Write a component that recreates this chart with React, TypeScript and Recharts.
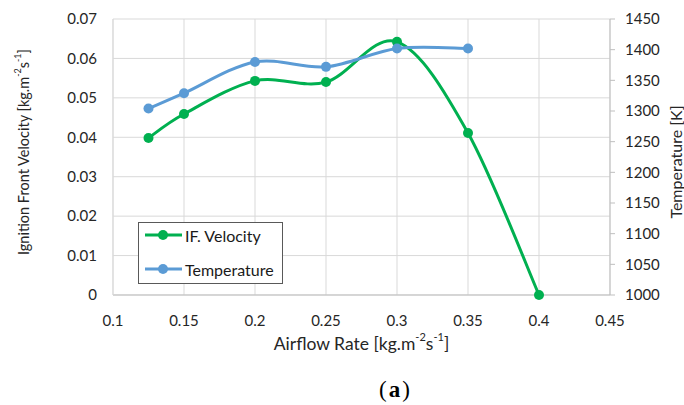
import React from 'react';
import { LineChart, Line, XAxis, YAxis, CartesianGrid, Legend, Label } from 'recharts';

// values
const airflow = [0.125, 0.15, 0.2, 0.25, 0.3, 0.35, 0.4];
const ifVelocity = [0.0398, 0.0459, 0.0543, 0.054, 0.0642, 0.0411, 0];
const temperature: (number | null)[] = [1304, 1329, 1380, 1372, 1402, 1402, null];

const xTicks = [0.1, 0.15, 0.2, 0.25, 0.3, 0.35, 0.4, 0.45];
const leftTicks = [0, 0.01, 0.02, 0.03, 0.04, 0.05, 0.06, 0.07];
const rightTicks = [1000, 1050, 1100, 1150, 1200, 1250, 1300, 1350, 1400, 1450];

const seriesNames = { velocity: 'IF. Velocity', temperature: 'Temperature' };
const GREEN = '#00b050';
const BLUE = '#5b9bd5';
const FONT = 'Lato, "Open Sans", sans-serif';
const TEXT = '#262626';

const chartData = airflow.map((x, i) => ({
  x,
  velocity: ifVelocity[i],
  temperature: temperature[i],
}));

// Excel-like smoothing (Catmull-Rom / cardinal tension 0)
const smoothCurve = (context: any) => {
  let pts: [number, number][] = [];
  return {
    areaStart() {},
    areaEnd() {},
    lineStart() {
      pts = [];
    },
    lineEnd() {
      const n = pts.length;
      if (!n) return;
      context.moveTo(pts[0][0], pts[0][1]);
      if (n === 2) {
        context.lineTo(pts[1][0], pts[1][1]);
        return;
      }
      for (let i = 0; i < n - 1; i++) {
        const p0 = pts[Math.max(i - 1, 0)];
        const p1 = pts[i];
        const p2 = pts[i + 1];
        const p3 = pts[Math.min(i + 2, n - 1)];
        context.bezierCurveTo(
          p1[0] + (p2[0] - p0[0]) / 6,
          p1[1] + (p2[1] - p0[1]) / 6,
          p2[0] - (p3[0] - p1[0]) / 6,
          p2[1] - (p3[1] - p1[1]) / 6,
          p2[0],
          p2[1]
        );
      }
    },
    point(x: number, y: number) {
      pts.push([+x, +y]);
    },
  };
};

const unitText = (prefix: string, size: number) => {
  const sup = Math.round(size * 0.65);
  const up = Math.round(size * 0.38);
  return (
    <>
      <tspan>{prefix + ' [kg.m'}</tspan>
      <tspan dy={-up} fontSize={sup}>-2</tspan>
      <tspan dy={up}>s</tspan>
      <tspan dy={-up} fontSize={sup}>-1</tspan>
      <tspan dy={up}>]</tspan>
    </>
  );
};

const renderLegend = ({ payload }: any) => (
  <div
    style={{
      position: 'relative',
      width: 145,
      height: 62,
      boxSizing: 'border-box',
      border: '1px solid #595959',
      background: '#fff',
      fontFamily: FONT,
      fontSize: 16,
      color: '#1a1a1a',
    }}
  >
    {(payload || []).map((e: any, i: number) => (
      <div
        key={e.value}
        style={{
          position: 'absolute',
          left: 6,
          top: 12 + i * 34 - 17,
          height: 34,
          display: 'flex',
          alignItems: 'center',
          whiteSpace: 'nowrap',
        }}
      >
        <svg width={37} height={12}>
          <line x1={0} y1={6} x2={37} y2={6} stroke={e.color} strokeWidth={3} />
          <circle cx={18} cy={6} r={5} fill={e.color} />
        </svg>
        <span style={{ marginLeft: 3 }}>{e.value}</span>
      </div>
    ))}
  </div>
);

export default function App() {
  return (
    <div style={{ position: 'absolute', left: 0, top: 0, width: 684, height: 405, background: '#fff', fontFamily: FONT }}>
      <LineChart width={684} height={405} data={chartData} margin={{ top: 19, right: 14, left: 53, bottom: 80 }}>
        <CartesianGrid yAxisId="left" stroke="#d9d9d9" strokeWidth={1} />
        <XAxis
          dataKey="x"
          type="number"
          domain={[0.1, 0.45]}
          ticks={xTicks}
          interval={0}
          height={30}
          tickLine={false}
          tickSize={6}
          tickMargin={14}
          axisLine={{ stroke: '#bfbfbf' }}
          tick={{ fill: TEXT, fontSize: 15, fontFamily: FONT }}
          tickFormatter={(v) => String(v)}
        >
          <Label
            content={({ viewBox }: any) => (
              <g>
                <text
                  x={viewBox.x + viewBox.width / 2}
                  y={viewBox.y + 48}
                  textAnchor="middle"
                  dominantBaseline="central"
                  fontSize={17.5}
                  fontFamily={FONT}
                  fill={TEXT}
                >
                  {unitText('Airflow Rate', 17.5)}
                </text>
                <text
                  x={viewBox.x + viewBox.width / 2 + 34}
                  y={viewBox.y + 102}
                  textAnchor="middle"
                  fontSize={23}
                  letterSpacing={2}
                  fontFamily='"Liberation Serif", serif'
                  fill="#000"
                >
                  <tspan>(</tspan>
                  <tspan fontWeight="bold">a</tspan>
                  <tspan>)</tspan>
                </text>
              </g>
            )}
          />
        </XAxis>
        <YAxis
          yAxisId="left"
          domain={[0, 0.07]}
          ticks={leftTicks}
          interval={0}
          width={60}
          tickLine={false}
          tickSize={6}
          tickMargin={10}
          axisLine={{ stroke: '#d9d9d9' }}
          tick={{ fill: TEXT, fontSize: 15, fontFamily: FONT }}
          tickFormatter={(v) => String(v)}
        >
          <Label
            content={({ viewBox }: any) => {
              const cx = viewBox.x - 30;
              const cy = viewBox.y + viewBox.height / 2 - 5;
              return (
                <text
                  x={cx}
                  y={cy}
                  transform={`rotate(-90, ${cx}, ${cy})`}
                  textAnchor="middle"
                  dominantBaseline="central"
                  fontSize={14.5}
                  fontFamily={FONT}
                  fill={TEXT}
                >
                  {unitText('Ignition Front Velocity', 14.5)}
                </text>
              );
            }}
          />
        </YAxis>
        <YAxis
          yAxisId="right"
          orientation="right"
          domain={[1000, 1450]}
          ticks={rightTicks}
          interval={0}
          width={60}
          tickLine={{ stroke: '#bfbfbf' }}
          tickSize={5}
          tickMargin={10}
          axisLine={{ stroke: '#bfbfbf' }}
          tick={{ fill: TEXT, fontSize: 15, fontFamily: FONT, textAnchor: 'start' }}
        >
          <Label
            content={({ viewBox }: any) => {
              const cx = viewBox.x + 65;
              const cy = viewBox.y + viewBox.height / 2 + 5;
              return (
                <text
                  x={cx}
                  y={cy}
                  transform={`rotate(-90, ${cx}, ${cy})`}
                  textAnchor="middle"
                  dominantBaseline="central"
                  fontSize={16}
                  fontFamily={FONT}
                  fill={TEXT}
                >
                  Temperature [K]
                </text>
              );
            }}
          />
        </YAxis>
        <Legend
          layout="vertical"
          align="center"
          verticalAlign="middle"
          content={renderLegend}
          wrapperStyle={{ left: 138, top: 222, width: 145, height: 62 }}
        />
        <Line
          yAxisId="left"
          dataKey="velocity"
          name={seriesNames.velocity}
          type={smoothCurve as any}
          stroke={GREEN}
          strokeWidth={3}
          dot={{ r: 5, fill: GREEN, stroke: GREEN, strokeWidth: 0 }}
          activeDot={false}
          isAnimationActive={false}
        />
        <Line
          yAxisId="right"
          dataKey="temperature"
          name={seriesNames.temperature}
          type={smoothCurve as any}
          stroke={BLUE}
          strokeWidth={3}
          dot={{ r: 5, fill: BLUE, stroke: BLUE, strokeWidth: 0 }}
          activeDot={false}
          isAnimationActive={false}
        />
      </LineChart>
    </div>
  );
}
